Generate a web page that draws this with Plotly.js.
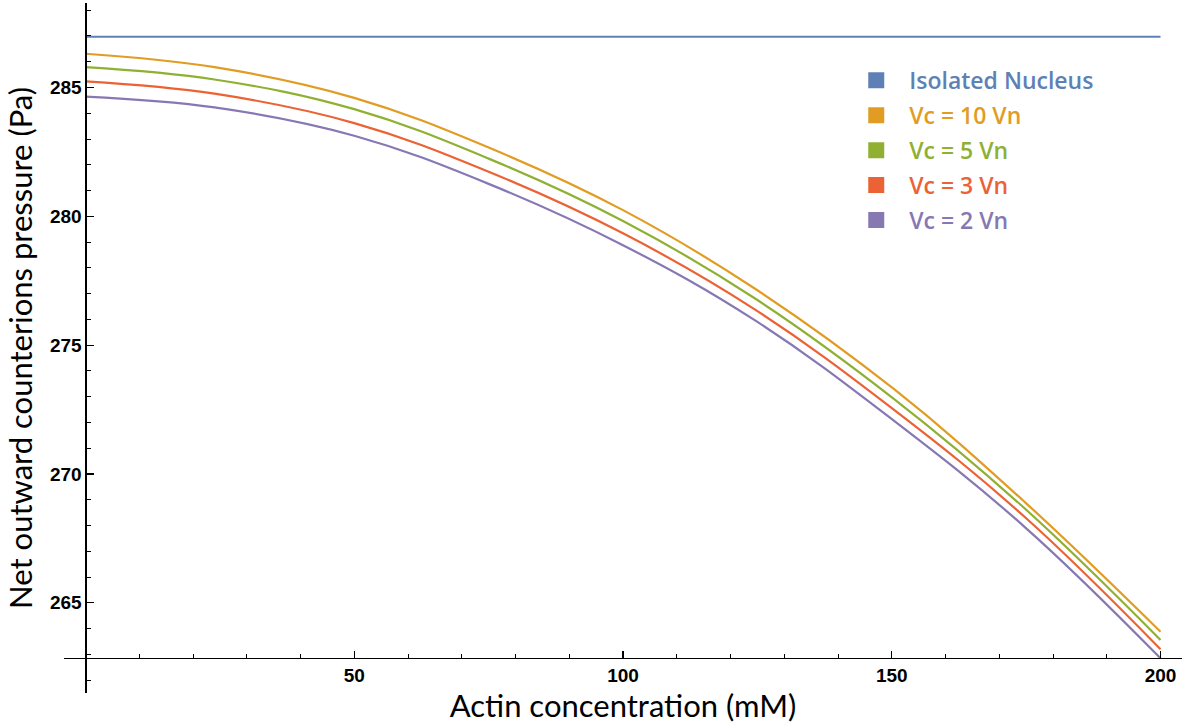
<!DOCTYPE html>
<html>
<head>
<meta charset="utf-8">
<script src="https://cdn.plot.ly/plotly-3.0.1.min.js"></script>
<style>html,body{margin:0;padding:0;background:#fff;}#chart{width:1188px;height:724px;}</style>
</head>
<body>
<div id="chart"></div>
<script>
// Data
var actin = [0, 24, 50, 75, 100, 124.5, 150.5, 174.7, 200];
var isolatedX = [0, 200];
var isolatedNucleus = [286.97, 286.97];
var vc10 = [286.31, 285.79, 284.60, 282.67, 280.24, 277.20, 273.28, 268.92, 263.88];
var vc5  = [285.79, 285.31, 284.16, 282.24, 279.82, 276.82, 272.90, 268.67, 263.56];
var vc3  = [285.24, 284.76, 283.62, 281.73, 279.34, 276.39, 272.48, 268.34, 263.20];
var vc2  = [284.65, 284.23, 283.13, 281.26, 278.88, 275.97, 272.05, 267.95, 262.85];
var seriesNames = ['Isolated Nucleus', 'Vc = 10 Vn', 'Vc = 5 Vn', 'Vc = 3 Vn', 'Vc = 2 Vn'];
var seriesColors = ['#5E81B5', '#E19C24', '#8FB032', '#EB6235', '#8778B3'];
var yTickVals = [265, 270, 275, 280, 285];
var xTickVals = [50, 100, 150, 200];

var seriesX = [isolatedX, actin, actin, actin, actin];
var seriesY = [isolatedNucleus, vc10, vc5, vc3, vc2];

var traces = [];
for (var i = 0; i < seriesNames.length; i++) {
  traces.push({
    x: seriesX[i], y: seriesY[i], type: 'scatter', mode: 'lines',
    line: {color: seriesColors[i], width: 2.2, shape: 'spline', smoothing: 1.1},
    showlegend: false, hoverinfo: 'skip'
  });
}
// legend entries (square swatches, coloured text)
for (var j = 0; j < seriesNames.length; j++) {
  traces.push({
    x: [null], y: [null], type: 'scatter', mode: 'markers',
    marker: {symbol: 'square', size: 16, color: seriesColors[j]},
    name: '<span style="color:' + seriesColors[j] + '">' + seriesNames[j] + '</span>',
    legendgroup: 'g' + j, showlegend: true
  });
}

var layout = {
  width: 1188, height: 724,
  margin: {l: 64, r: 6, t: 3, b: 31},
  paper_bgcolor: '#fff', plot_bgcolor: '#fff',
  showlegend: true,
  legend: {
    x: 0.697, y: 0.919, xanchor: 'left', yanchor: 'top',
    font: {family: 'Open Sans', size: 23, weight: 600},
    traceorder: 'grouped', tracegroupgap: 2,
    bgcolor: 'rgba(0,0,0,0)', itemwidth: 56
  },
  xaxis: {
    range: [-4, 204], anchor: 'free', position: 0.0508,
    showgrid: false, zeroline: false,
    showline: true, linecolor: '#000', linewidth: 1.5,
    ticks: 'inside', ticklen: 7, tickwidth: 1.2, tickcolor: '#000',
    tickvals: xTickVals, ticktext: xTickVals.map(String),
    tickfont: {family: 'Liberation Sans', size: 19, color: '#000', weight: 'bold'},
    minor: {dtick: 10, tick0: 0, ticks: 'inside', ticklen: 4, tickwidth: 1, tickcolor: '#000', showgrid: false},
    title: {text: 'Actin concentration (mM)', font: {family: 'Lato', size: 31, color: '#000'}, standoff: 3}
  },
  yaxis: {
    range: [261.5, 288.28], anchor: 'free', position: 0.01923,
    showgrid: false, zeroline: false,
    showline: true, linecolor: '#000', linewidth: 1.5,
    ticks: 'inside', ticklen: 7, tickwidth: 1.2, tickcolor: '#000',
    tickvals: yTickVals, ticktext: yTickVals.map(String),
    tickfont: {family: 'Liberation Sans', size: 19, color: '#000', weight: 'bold'},
    minor: {dtick: 1, tick0: 0, ticks: 'inside', ticklen: 4, tickwidth: 1, tickcolor: '#000', showgrid: false},
    title: {text: 'Net outward counterions pressure (Pa)', font: {family: 'Lato', size: 31, color: '#000'}, standoff: 6}
  }
};

Plotly.newPlot('chart', traces, layout, {displayModeBar: false, staticPlot: true});
</script>
</body>
</html>
